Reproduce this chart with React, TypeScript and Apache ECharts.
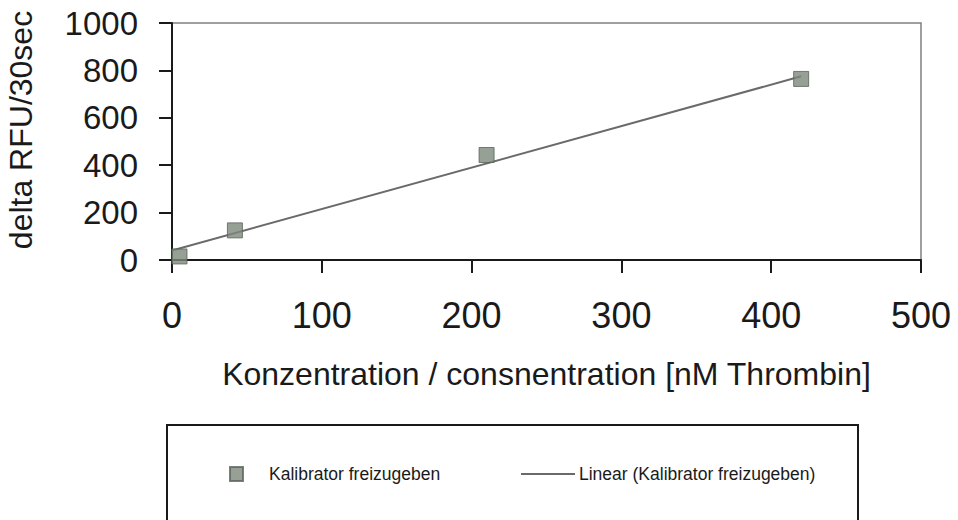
import React, { useEffect, useRef } from "react";
import * as echarts from "echarts";

const concentration = [5, 42, 210, 420];
const deltaRFU = [15, 125, 443, 764];
const trendX = [0, 420];
const trendY = [40, 775];
const xTicks = [0, 100, 200, 300, 400, 500];
const yTicks = [0, 200, 400, 600, 800, 1000];
const seriesName = "Kalibrator freizugeben";
const trendName = "Linear (Kalibrator freizugeben)";
const xTitle = "Konzentration / consnentration [nM Thrombin]";
const yTitle = "delta RFU/30sec";

const FONT = "'Liberation Sans', Arial, Helvetica, sans-serif";

export default function App() {
  const ref = useRef<HTMLDivElement>(null);
  useEffect(() => {
    if (!ref.current) return;
    const chart = echarts.init(ref.current, null, { renderer: "svg" });
    const scatterData = concentration.map((x, i) => [x, deltaRFU[i]]);
    const trendData = trendX.map((x, i) => [x, trendY[i]]);
    chart.setOption({
      animation: false,
      backgroundColor: "#ffffff",
      textStyle: { fontFamily: FONT },
      grid: {
        left: 172,
        right: 37,
        top: 23,
        bottom: 260,
        outerBoundsMode: "none",
        containLabel: false,
        show: true,
        borderColor: "#808080",
        borderWidth: 1.5,
        backgroundColor: "transparent",
      },
      xAxis: {
        type: "value",
        min: xTicks[0],
        max: xTicks[xTicks.length - 1],
        interval: 100,
        name: xTitle,
        nameLocation: "middle",
        nameGap: 98,
        nameTextStyle: { fontSize: 32, color: "#1a1a1a", fontFamily: FONT },
        axisLine: { show: true, onZero: false, lineStyle: { color: "#1a1a1a", width: 2 } },
        axisTick: { show: true, length: 13, lineStyle: { color: "#1a1a1a", width: 2 } },
        axisLabel: {
          fontSize: 36,
          color: "#1a1a1a",
          margin: 37,
          fontFamily: FONT,
          formatter: (v: number) => String(v),
        },
        splitLine: { show: false },
      },
      yAxis: {
        type: "value",
        min: yTicks[0],
        max: yTicks[yTicks.length - 1],
        interval: 200,
        name: yTitle,
        nameLocation: "middle",
        nameGap: 135,
        nameTextStyle: { fontSize: 32, color: "#1a1a1a", fontFamily: FONT, padding: [0, 0, 0, 23] },
        axisLine: { show: true, onZero: false, lineStyle: { color: "#1a1a1a", width: 2 } },
        axisTick: { show: true, length: 13, lineStyle: { color: "#1a1a1a", width: 2 } },
        axisLabel: {
          fontSize: 33,
          color: "#1a1a1a",
          margin: 34,
          fontFamily: FONT,
          formatter: (v: number) => String(v),
        },
        splitLine: { show: false },
      },
      legend: [
        {
          data: [{ name: seriesName, icon: "rect" }],
          left: 229,
          top: 465,
          padding: 0,
          itemWidth: 13,
          itemHeight: 14,
          textStyle: { fontSize: 17.5, color: "#1a1a1a", fontFamily: FONT, padding: [0, 0, 0, 21] },
          selectedMode: false,
        },
        {
          data: [{ name: trendName, icon: "rect", itemStyle: { color: "#6a6a6a" } }],
          left: 521,
          top: 465,
          padding: 0,
          itemWidth: 54,
          itemHeight: 2,
          textStyle: { fontSize: 17.5, color: "#1a1a1a", fontFamily: FONT, padding: [0, 0, 0, -1] },
          selectedMode: false,
        },
      ],
      graphic: [
        {
          type: "rect",
          shape: { x: 167, y: 425, width: 691, height: 110 },
          style: { fill: "none", stroke: "#1a1a1a", lineWidth: 2 },
          silent: true,
        },
      ],
      series: [
        {
          name: trendName,
          type: "line",
          data: trendData,
          symbol: "none",
          showSymbol: false,
          lineStyle: { color: "#6a6a6a", width: 2 },
          itemStyle: { color: "#6a6a6a" },
          z: 2,
        },
        {
          name: seriesName,
          type: "scatter",
          data: scatterData,
          symbol: "rect",
          symbolSize: 15,
          itemStyle: { color: "#7d887a", borderColor: "#5a625a", borderWidth: 1 },
          z: 3,
        },
      ],
    });
    return () => chart.dispose();
  }, []);
  return (
    <div
      ref={ref}
      style={{ position: "fixed", left: 0, top: 0, width: 958, height: 520, background: "#fff" }}
    />
  );
}
